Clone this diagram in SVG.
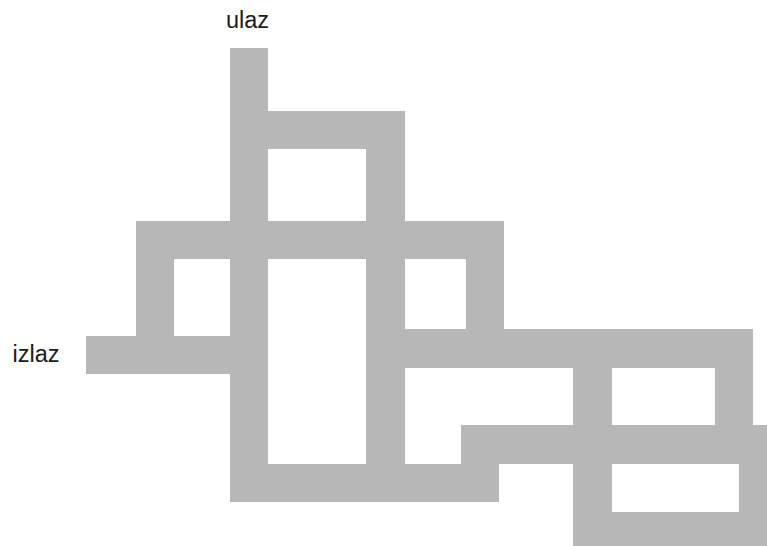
<svg xmlns="http://www.w3.org/2000/svg" width="767" height="546" viewBox="0 0 767 546">
<style>
.w{fill:#b7b7b7;stroke:none}
.lbl{font-family:"Liberation Sans",Arial,sans-serif;font-size:23.5px;fill:#1a1a1a}
</style>
<rect width="767" height="546" fill="#ffffff"/>
<g id="maze">
<rect class="w" x="230" y="48" width="38" height="454"/>
<rect class="w" x="230" y="111" width="175" height="38"/>
<rect class="w" x="366" y="111" width="39" height="391"/>
<rect class="w" x="136" y="221" width="368" height="38"/>
<rect class="w" x="136" y="221" width="38" height="153"/>
<rect class="w" x="86" y="336" width="182" height="38"/>
<rect class="w" x="466" y="221" width="38" height="147"/>
<rect class="w" x="366" y="329" width="387" height="39"/>
<rect class="w" x="573" y="329" width="39" height="217"/>
<rect class="w" x="715" y="329" width="38" height="135"/>
<rect class="w" x="461" y="425" width="306" height="39"/>
<rect class="w" x="461" y="425" width="38" height="77"/>
<rect class="w" x="230" y="464" width="269" height="38"/>
<rect class="w" x="739" y="425" width="28" height="121"/>
<rect class="w" x="573" y="512" width="194" height="34"/>
</g>
<g id="labels">
<text class="lbl" x="247.5" y="27.5" text-anchor="middle">ulaz</text>
<text class="lbl" x="12.5" y="361.5">izlaz</text>
</g>
</svg>
